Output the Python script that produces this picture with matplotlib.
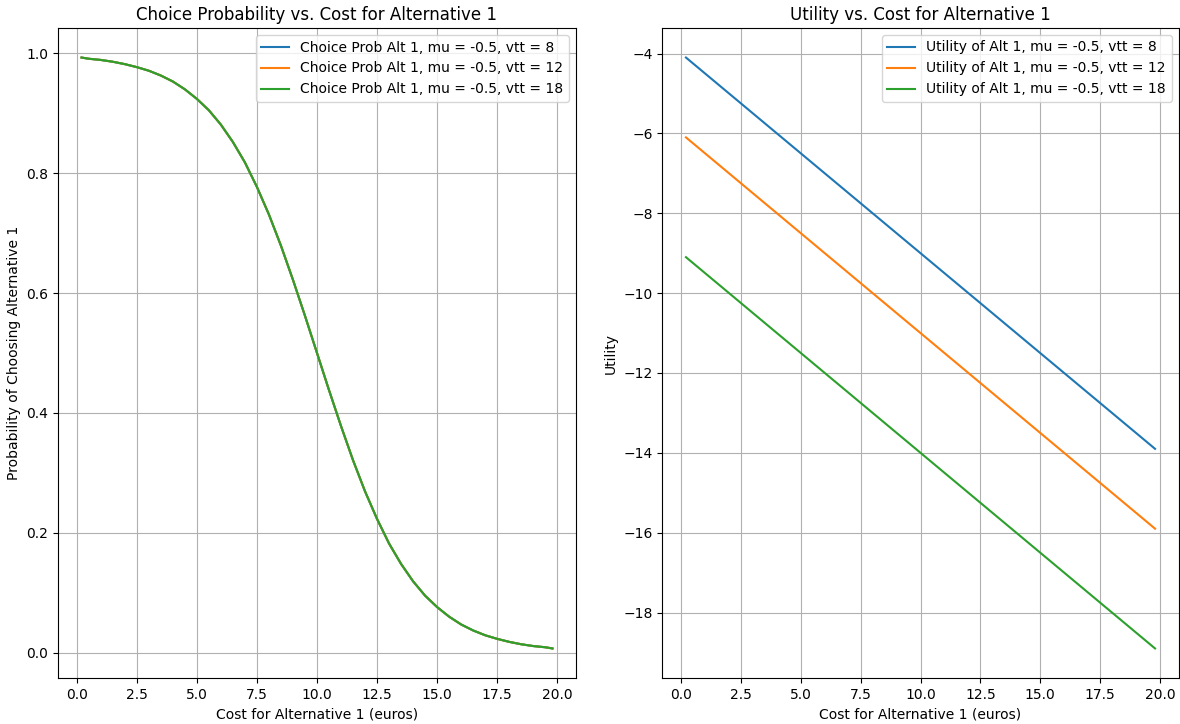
import numpy as np
import matplotlib
matplotlib.use("Agg")
import matplotlib.pyplot as plt

# cost for alternative 1 (euros)
cost = [0.2, 0.5, 1.0, 1.5, 2.0, 2.5, 3.0, 3.5, 4.0, 4.5, 5.0, 5.5, 6.0, 6.5,
        7.0, 7.5, 8.0, 8.5, 9.0, 9.5, 10.0, 10.5, 11.0, 11.5, 12.0, 12.5,
        13.0, 13.5, 14.0, 14.5, 15.0, 15.5, 16.0, 16.5, 17.0, 17.5, 18.0,
        18.5, 19.0, 19.5, 19.8]

# choice probability (same curve for all three vtt values)
prob = [0.993, 0.991, 0.989, 0.986, 0.982, 0.977, 0.971, 0.963, 0.953, 0.940,
        0.924, 0.905, 0.881, 0.852, 0.818, 0.777, 0.731, 0.679, 0.622, 0.562,
        0.500, 0.438, 0.378, 0.321, 0.269, 0.223, 0.182, 0.148, 0.119, 0.095,
        0.076, 0.060, 0.047, 0.037, 0.029, 0.023, 0.018, 0.014, 0.011, 0.009,
        0.007]

vtts = [8, 12, 18]

# utility lines (straight), read at a few costs
cost_u = [0.2, 5.0, 10.0, 15.0, 19.8]
util = {
    8: [-4.1, -6.5, -9.0, -11.5, -13.9],
    12: [-6.1, -8.5, -11.0, -13.5, -15.9],
    18: [-9.1, -11.5, -14.0, -16.5, -18.9],
}

W, H = 1180, 724
fig = plt.figure(figsize=(11.8, 7.24), dpi=100)
ax1 = fig.add_axes([58 / W, (H - 678) / H, 518 / W, 650 / H])
ax2 = fig.add_axes([662.5 / W, (H - 678) / H, 516 / W, 650 / H])

for v in vtts:
    ax1.plot(cost, prob, label=f"Choice Prob Alt 1, mu = -0.5, vtt = {v}")
ax1.set_title("Choice Probability vs. Cost for Alternative 1", fontsize=12)
ax1.set_xlabel("Cost for Alternative 1 (euros)")
ax1.set_ylabel("Probability of Choosing Alternative 1")
ax1.legend(loc="upper right")
ax1.grid(True)

for v in vtts:
    ax2.plot(cost_u, util[v], label=f"Utility of Alt 1, mu = -0.5, vtt = {v}")
ax2.set_title("Utility vs. Cost for Alternative 1", fontsize=12)
ax2.set_xlabel("Cost for Alternative 1 (euros)")
ax2.set_ylabel("Utility")
ax2.legend(loc="upper right")
ax2.grid(True)

fig.savefig("out.png")
